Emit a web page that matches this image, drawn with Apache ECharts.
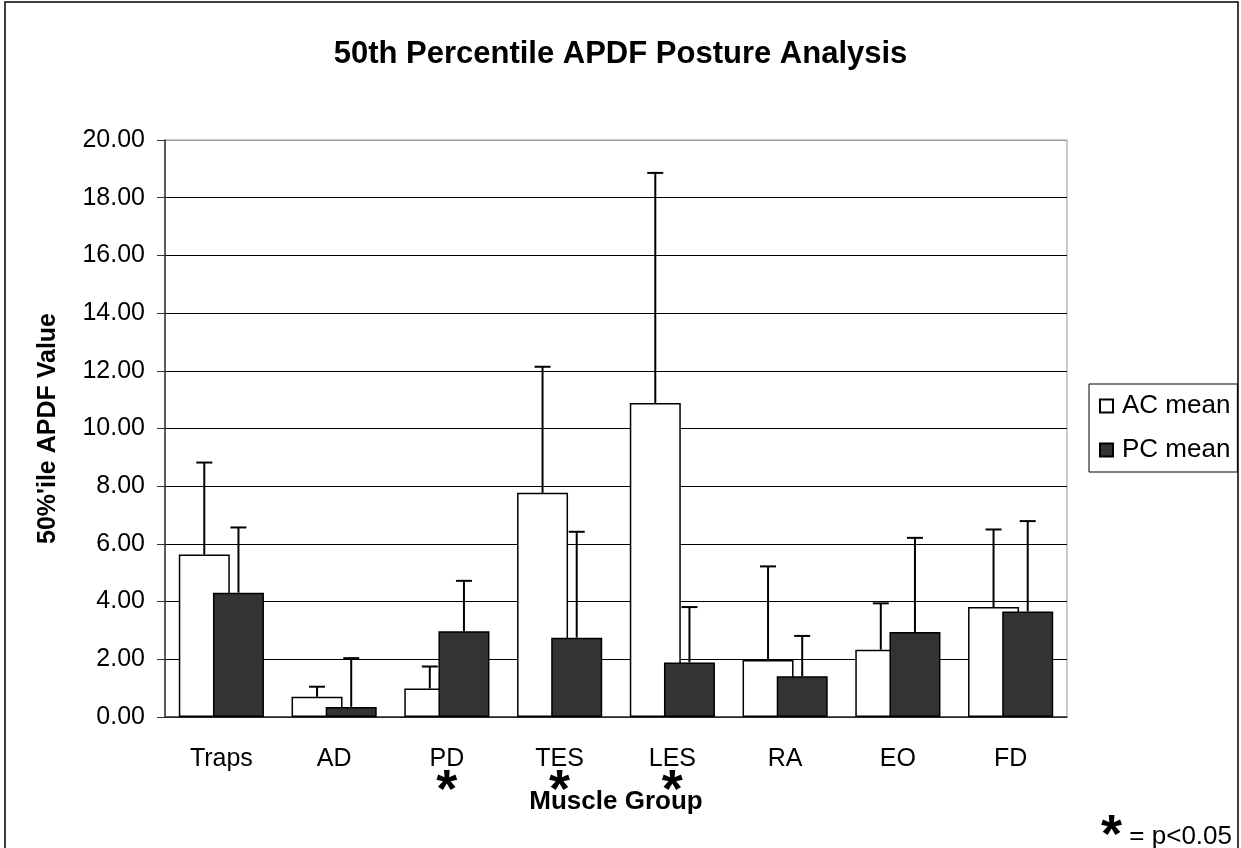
<!DOCTYPE html>
<html>
<head>
<meta charset="utf-8">
<script src="https://cdn.jsdelivr.net/npm/echarts@6/dist/echarts.min.js"></script>
<style>html,body{margin:0;padding:0;background:#fff;}#c{width:1241px;height:848px;}</style>
</head>
<body>
<div id="c"></div>
<script>
// ---- data ----
const categories = ['Traps', 'AD', 'PD', 'TES', 'LES', 'RA', 'EO', 'FD'];
const acMean = [5.63, 0.70, 0.99, 7.77, 10.88, 1.98, 2.33, 3.81];
const acErr  = [3.19, 0.35, 0.76, 4.37, 7.98, 3.24, 1.61, 2.69];
const pcMean = [4.31, 0.35, 2.97, 2.75, 1.89, 1.41, 2.95, 3.66];
const pcErr  = [2.26, 1.69, 1.75, 3.67, 1.92, 1.40, 3.26, 3.13];
const significant = [false, false, true, true, true, false, false, false];
const yTicks = ['0.00','2.00','4.00','6.00','8.00','10.00','12.00','14.00','16.00','18.00','20.00'];

const FONT = "'Liberation Sans', Arial, sans-serif";
const BAR_W = 51;
const GAP = -0.33;
const OFF = BAR_W * (1 + GAP) / 2;

function errSeries(means, errs, sign) {
  return {
    type: 'custom',
    z: 10,
    data: means.map((m, i) => [i, m, errs[i]]),
    renderItem: function (params, api) {
      const i = api.value(0), m = api.value(1), e = api.value(2);
      const b = api.coord([i, m]);
      const t = api.coord([i, m + e]);
      const x = b[0] + sign * OFF;
      const style = { stroke: '#000', lineWidth: 2 };
      return {
        type: 'group',
        children: [
          { type: 'line', shape: { x1: x, y1: b[1], x2: x, y2: t[1] }, style: style },
          { type: 'line', shape: { x1: x - 8, y1: t[1], x2: x + 8, y2: t[1] }, style: style }
        ]
      };
    },
    tooltip: { show: false },
    silent: true
  };
}

const chart = echarts.init(document.getElementById('c'), null, { renderer: 'canvas' });
const gridColors = yTicks.map((t, i) => i === yTicks.length - 1 ? '#999' : '#000');

chart.setOption({
  backgroundColor: '#fff',
  animation: false,
  textStyle: { fontFamily: FONT, color: '#000' },
  title: {
    text: '50th Percentile APDF Posture Analysis',
    left: 'center', top: 34,
    textStyle: { fontFamily: FONT, fontSize: 31, fontWeight: 'bold', color: '#000' }
  },
  legend: {
    data: ['AC mean', 'PC mean'],
    orient: 'vertical',
    left: 1089, top: 384,
    padding: [9, 7, 9, 10],
    itemGap: 18,
    itemWidth: 13, itemHeight: 13,
    icon: 'rect',
    borderColor: '#000', borderWidth: 1,
    backgroundColor: '#fff',
    textStyle: { fontFamily: FONT, fontSize: 26, color: '#000', padding: [0, 0, 0, 4] }
  },
  grid: {
    left: 165, right: 174, top: 140, bottom: 131,
    containLabel: false, outerBoundsMode: 'none',
    show: true, borderColor: '#999', borderWidth: 1
  },
  xAxis: {
    type: 'category',
    data: categories,
    name: 'Muscle Group',
    nameLocation: 'middle',
    nameGap: 72,
    nameMoveOverlap: false,
    nameTextStyle: { fontFamily: FONT, fontSize: 26, fontWeight: 'bold', color: '#000' },
    axisLine: { lineStyle: { color: '#333', width: 1.5 } },
    axisTick: { length: 7, lineStyle: { color: '#333' } },
    axisLabel: {
      margin: 28,
      fontFamily: FONT, fontSize: 25, color: '#000', lineHeight: 28,
      formatter: function (v, i) { return significant[i] ? v + '\n{s|*}' : v; },
      rich: { s: { fontFamily: FONT, fontSize: 54, fontWeight: 'bold', lineHeight: 38, color: '#000' } }
    }
  },
  yAxis: {
    type: 'value',
    min: 0, max: 20, interval: 2,
    name: "50%'ile APDF Value",
    nameLocation: 'middle',
    nameGap: 104,
    nameMoveOverlap: false,
    nameTextStyle: { fontFamily: FONT, fontSize: 25, fontWeight: 'bold', color: '#000' },
    axisLine: { show: true, lineStyle: { color: '#333', width: 1.5 } },
    axisTick: { show: true, length: 8, lineStyle: { color: '#333' } },
    axisLabel: {
      margin: 20, fontFamily: FONT, fontSize: 25, color: '#000',
      formatter: function (v) { return yTicks[Math.round(v / 2)]; }
    },
    splitLine: { show: true, lineStyle: { color: gridColors, width: 1 } }
  },
  series: [
    {
      name: 'AC mean', type: 'bar', data: acMean,
      barWidth: BAR_W, barGap: (GAP * 100) + '%',
      itemStyle: { color: '#fff', borderColor: '#000', borderWidth: 1.5 }
    },
    {
      name: 'PC mean', type: 'bar', data: pcMean,
      barWidth: BAR_W, barGap: (GAP * 100) + '%',
      itemStyle: { color: '#333333', borderColor: '#000', borderWidth: 1.5 }
    },
    errSeries(acMean, acErr, -1),
    errSeries(pcMean, pcErr, 1)
  ],
  graphic: [
    { type: 'rect', shape: { x: 5, y: 2, width: 1233, height: 900 }, style: { fill: 'none', stroke: '#000', lineWidth: 1.5 }, z: 100, silent: true },
    {
      type: 'text', right: 9, top: 810, z: 100,
      style: {
        text: '{s|*}{t| = p<0.05}',
        rich: {
          s: { fontFamily: FONT, fontSize: 54, fontWeight: 'bold', fill: '#000', lineHeight: 36 },
          t: { fontFamily: FONT, fontSize: 26, fill: '#000', lineHeight: 36 }
        }
      }
    }
  ]
});
</script>
</body>
</html>
